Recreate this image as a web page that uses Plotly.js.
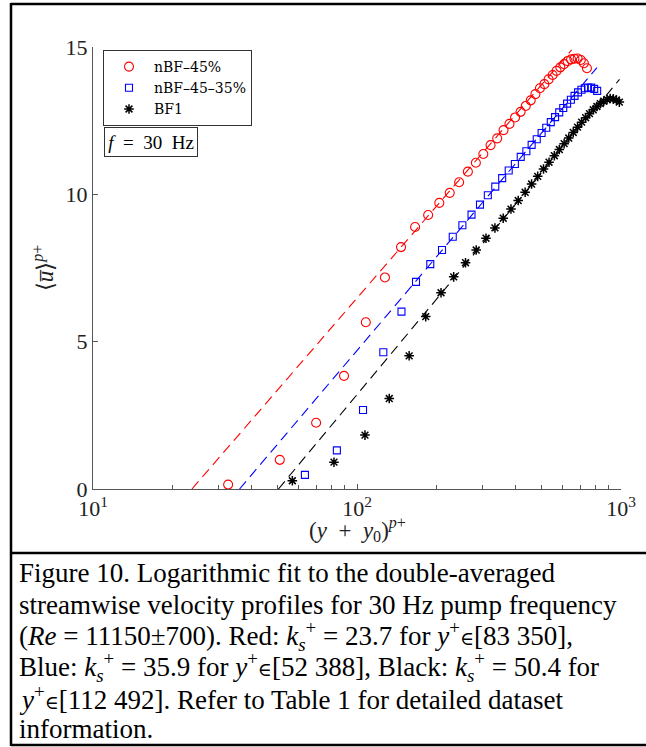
<!DOCTYPE html>
<html>
<head>
<meta charset="utf-8">
<script src="https://cdn.plot.ly/plotly-3.0.1.min.js"></script>
<style>html,body{margin:0;padding:0;background:#fff;}#chart{width:646px;height:747px;}</style>
</head>
<body>
<div id="chart"></div>
<script>
// ---- data ----
const seriesNames = ["nBF\u201345%", "nBF\u201345\u201335%", "BF1"];

const redX = [32.5, 51.0, 70.0, 89.3, 108, 127.6, 146.8, 166, 186, 205, 224.5, 243.7, 263, 282, 301, 320.5, 339.7, 359, 378, 397, 416.5, 435.7, 455, 474, 493, 512.5, 531.7, 551, 570, 589, 608.5, 627.7, 647, 666, 685, 704.5, 723.7, 743];
const redY = [0.15, 0.99, 2.25, 3.84, 5.66, 7.18, 8.21, 8.89, 9.30, 9.71, 10.05, 10.41, 10.77, 11.07, 11.37, 11.67, 11.90, 12.18, 12.39, 12.61, 12.80, 13.00, 13.19, 13.40, 13.60, 13.74, 13.90, 14.05, 14.19, 14.31, 14.42, 14.52, 14.58, 14.60, 14.61, 14.56, 14.45, 14.28];

const blueX = [63.5, 83.9, 105.4, 125.8, 147.4, 167.3, 189.5, 209.9, 230.5, 250.7, 271.5, 292.3, 313, 334, 354.7, 375.5, 396.3, 417, 438, 458.7, 479.5, 500.3, 521, 542, 562.7, 583.5, 604.3, 625, 646, 666.7, 687.5, 708.3, 729, 750, 770.7, 791.5, 812.3];
const blueY = [0.48, 1.31, 2.68, 4.64, 6.02, 7.03, 7.63, 8.11, 8.56, 8.95, 9.31, 9.65, 9.97, 10.26, 10.55, 10.81, 11.03, 11.27, 11.46, 11.68, 11.87, 12.08, 12.26, 12.45, 12.62, 12.78, 12.93, 13.08, 13.21, 13.34, 13.46, 13.55, 13.60, 13.62, 13.62, 13.58, 13.51];

const blackX = [56.9, 81.8, 107.2, 132.5, 157.6, 182.1, 208.1, 232.4, 257.7, 282.8, 308, 333, 358, 383, 408, 433.4, 458.5, 483.6, 508.7, 533.8, 559, 584, 609, 634, 659.3, 684.4, 709.5, 734.6, 759.7, 784.8, 810, 835, 860, 885, 910, 935.4, 960.5, 985.6, 1005];
const blackY = [0.28, 0.91, 1.83, 3.07, 4.52, 5.85, 6.66, 7.20, 7.68, 8.11, 8.51, 8.86, 9.19, 9.50, 9.79, 10.07, 10.35, 10.61, 10.86, 11.09, 11.31, 11.52, 11.72, 11.91, 12.10, 12.28, 12.45, 12.60, 12.74, 12.87, 12.98, 13.08, 13.16, 13.22, 13.25, 13.24, 13.20, 13.13, 13.05];

// logarithmic fit lines: start at k_s+ (u = 0) and end point
const fitRedX = [23.7, 650];
const fitRedY = [0, 14.9];
const fitBlueX = [35.9, 811];
const fitBlueY = [0, 14.3];
const fitBlackX = [50.4, 987];
const fitBlackY = [0, 13.9];

const xTickVals = [10, 100, 1000];
const xTickText = ["10<sup>1</sup>", "10<sup>2</sup>", "10<sup>3</sup>"];
const xMinorVals = [20, 30, 40, 50, 60, 70, 80, 90, 200, 300, 400, 500, 600, 700, 800, 900];
const yTickVals = [0, 5, 10, 15];
const yTickText = ["0", "5", "10", "15"];

const EL = "<span style=\"font-family:'DejaVu Serif';font-size:19px\">\u2208</span>";
const captionLines = [
  "Figure 10. Logarithmic fit to the double-averaged",
  "streamwise velocity profiles for 30 Hz pump frequency",
  "(<i>Re</i> = 11150\u00b1700). Red: <i>k<sub>s</sub></i><sup>+</sup> = 23.7 for <i>y</i><sup>+</sup>" + EL + "[83 350],",
  "Blue: <i>k<sub>s</sub></i><sup>+</sup> = 35.9 for <i>y</i><sup>+</sup>" + EL + "[52 388], Black: <i>k<sub>s</sub></i><sup>+</sup> = 50.4 for",
  "<i>y</i><sup>+</sup>" + EL + "[112 492]. Refer to Table 1 for detailed dataset",
  "information."
];

// ---- drawing ----
const FONT = "Liberation Serif, Times New Roman, serif";
const dashStyle = "10px,6px";

const traces = [
  {x: fitRedX, y: fitRedY, type: "scatter", mode: "lines", line: {color: "#ff0000", width: 1.1, dash: dashStyle}, showlegend: false, hoverinfo: "skip"},
  {x: fitBlueX, y: fitBlueY, type: "scatter", mode: "lines", line: {color: "#0000ff", width: 1.1, dash: dashStyle}, showlegend: false, hoverinfo: "skip"},
  {x: fitBlackX, y: fitBlackY, type: "scatter", mode: "lines", line: {color: "#000000", width: 1.1, dash: dashStyle}, showlegend: false, hoverinfo: "skip"},
  {x: redX, y: redY, name: seriesNames[0], type: "scatter", mode: "markers", cliponaxis: false,
   marker: {symbol: "circle-open", size: 9, color: "#ff0000", line: {color: "#ff0000", width: 1.1}}},
  {x: blueX, y: blueY, name: seriesNames[1], type: "scatter", mode: "markers", cliponaxis: false,
   marker: {symbol: "square-open", size: 7, color: "#0000ff", line: {color: "#0000ff", width: 1.1}}},
  {x: blackX, y: blackY, name: seriesNames[2], type: "scatter", mode: "markers", cliponaxis: false,
   marker: {symbol: "asterisk-open", size: 8, color: "#000000", line: {color: "#000000", width: 1.5}}}
];

// paper-coordinate helpers for frame (plot area: x 93..621 px, y 47..489 px)
const px = v => (v - 93) / 528;
const py = v => (489 - v) / 442;

const shapes = [
  {type: "line", xref: "paper", yref: "paper", x0: px(11), x1: px(11), y0: py(746), y1: py(3), line: {color: "#000", width: 2.5}},
  {type: "line", xref: "paper", yref: "paper", x0: px(11), x1: px(646), y0: py(4), y1: py(4), line: {color: "#000", width: 2.5}},
  {type: "line", xref: "paper", yref: "paper", x0: px(11), x1: px(646), y0: py(553), y1: py(553), line: {color: "#000", width: 2.5}},
  {type: "line", xref: "paper", yref: "paper", x0: px(11), x1: px(646), y0: py(745), y1: py(745), line: {color: "#000", width: 2.5}}
];

const annotations = [
  {xref: "paper", yref: "paper", x: px(151), y: py(142), xanchor: "center", yanchor: "middle",
   text: "<i>f</i>  =  30  Hz", showarrow: false,
   font: {family: FONT, size: 19, color: "#000"}, bordercolor: "#333", borderwidth: 1, borderpad: 2,
   width: 88, height: 24, bgcolor: "#fff"},
  {xref: "paper", yref: "paper", x: px(357), y: py(529), xanchor: "center", yanchor: "middle",
   text: "(<i>y</i>  +  <i>y</i><sub>0</sub>)<sup><i>p</i>+</sup>", showarrow: false,
   font: {family: FONT, size: 23, color: "#222"}}
];
const lineY = [573, 605, 636, 667, 698, 729];
captionLines.forEach((t, i) => {
  annotations.push({xref: "paper", yref: "paper", x: px(17), y: py(lineY[i]), xanchor: "left", yanchor: "middle",
    text: t, showarrow: false, font: {family: FONT, size: 27, color: "#000"}});
});

const layout = {
  width: 646, height: 747,
  margin: {l: 93, r: 25, t: 47, b: 258},
  paper_bgcolor: "#fff", plot_bgcolor: "#fff",
  font: {family: FONT, color: "#000"},
  showlegend: true,
  legend: {x: px(103), y: py(50), xanchor: "left", yanchor: "top", bgcolor: "#fff",
    bordercolor: "#333", borderwidth: 1, font: {family: "DejaVu Serif", size: 14, color: "#000"},
    itemwidth: 40, tracegroupgap: 0},
  xaxis: {type: "log", range: [1, 3], tickmode: "array", tickvals: xTickVals, ticktext: xTickText,
    ticks: "inside", ticklen: 5, tickwidth: 1, tickcolor: "#555",
    minor: {tickmode: "array", tickvals: xMinorVals, ticks: "inside", ticklen: 4, tickwidth: 1, tickcolor: "#555", showgrid: false},
    showline: true, linecolor: "#555", linewidth: 1, showgrid: false, zeroline: false,
    tickfont: {family: FONT, size: 22, color: "#222"}},
  yaxis: {range: [0, 15], tickmode: "array", tickvals: yTickVals, ticktext: yTickText,
    ticks: "inside", ticklen: 5, tickwidth: 1, tickcolor: "#555",
    showline: true, linecolor: "#555", linewidth: 1, showgrid: false, zeroline: false,
    tickfont: {family: FONT, size: 22, color: "#222"},
    title: {text: "\u27e8<i>u\u0305</i>\u27e9<sup><i>p</i>+</sup>", font: {family: FONT, size: 23, color: "#222"}, standoff: 5}},
  shapes: shapes,
  annotations: annotations
};

Plotly.newPlot("chart", traces, layout, {displayModeBar: false, staticPlot: true});
</script>
</body>
</html>
